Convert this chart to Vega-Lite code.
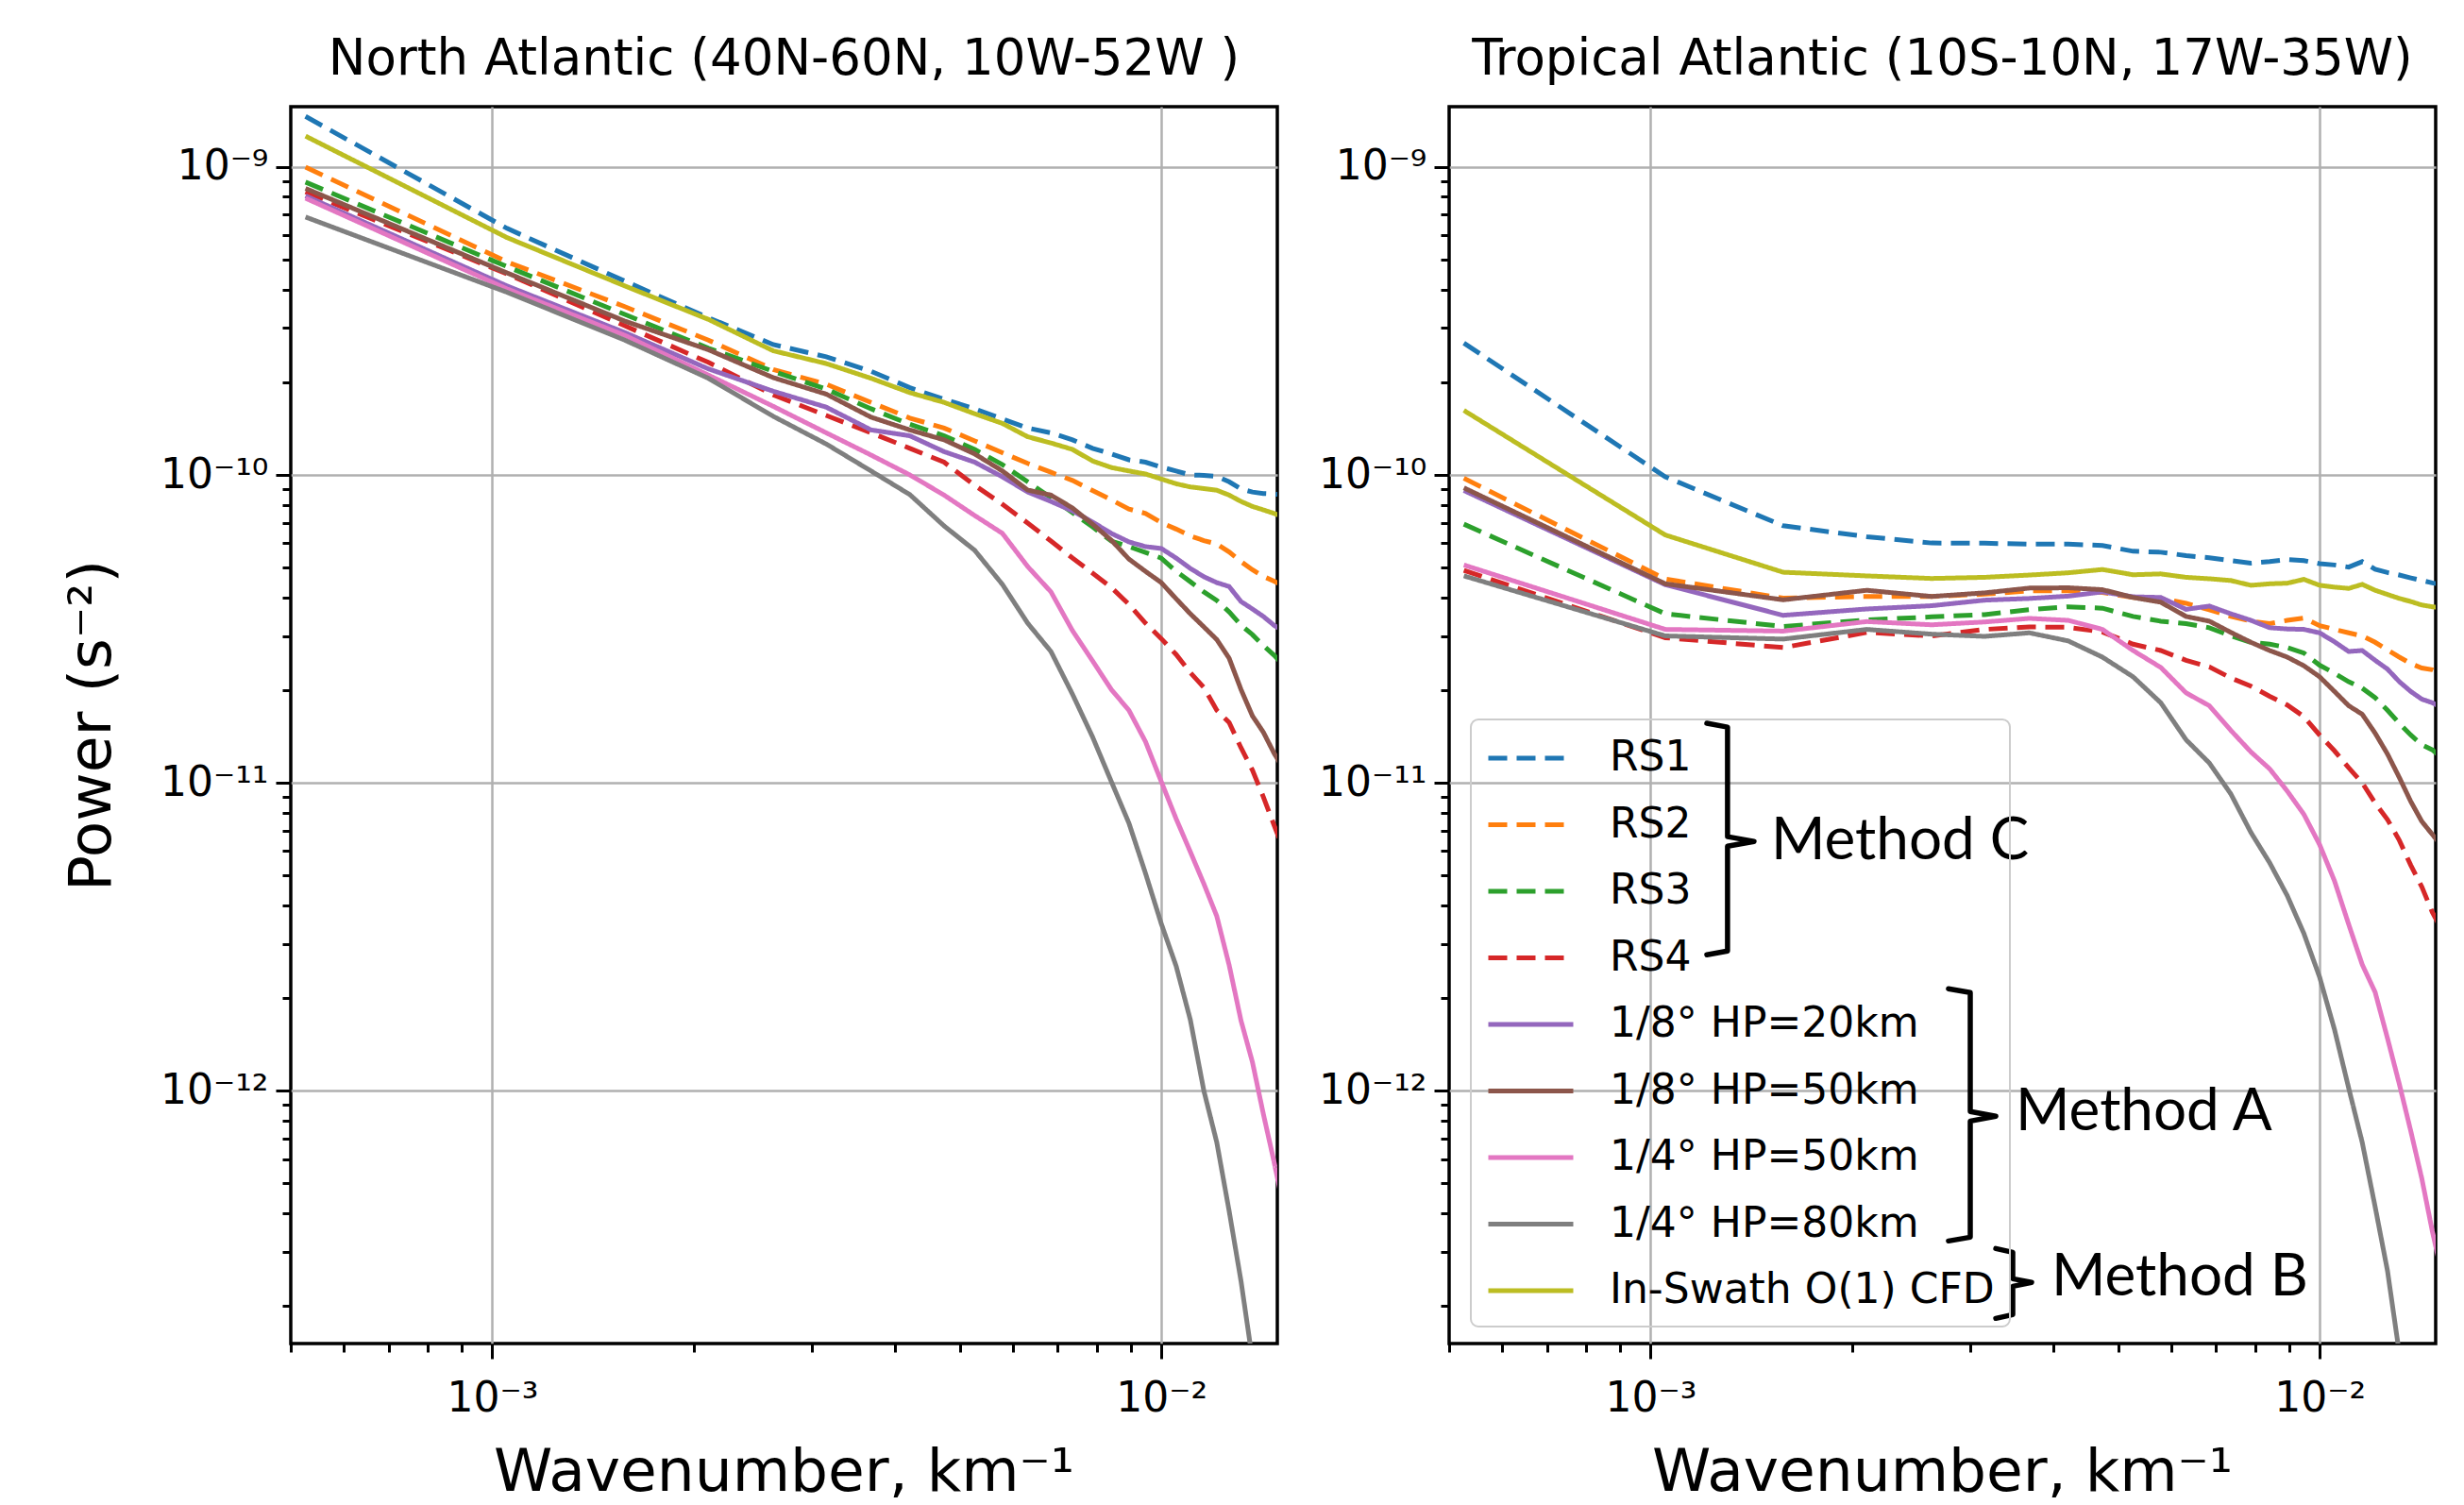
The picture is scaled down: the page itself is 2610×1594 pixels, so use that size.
{
  "$schema": "https://vega.github.io/schema/vega-lite/v6.json",
  "padding": {"left": 64, "top": 35, "right": 28, "bottom": 0},
  "bounds": "flush",
  "spacing": 182,
  "datasets": {
    "na": [
      {"s":"RS1","k":0.000526,"p":1.46e-9},{"s":"RS1","k":0.001052,"p":6.32e-10},{"s":"RS1","k":0.001578,"p":4.26e-10},{"s":"RS1","k":0.002104,"p":3.24e-10},{"s":"RS1","k":0.00263,"p":2.65e-10},{"s":"RS1","k":0.003156,"p":2.42e-10},{"s":"RS1","k":0.003682,"p":2.17e-10},{"s":"RS1","k":0.004208,"p":1.92e-10},{"s":"RS1","k":0.004734,"p":1.76e-10},{"s":"RS1","k":0.00526,"p":1.64e-10},{"s":"RS1","k":0.005786,"p":1.52e-10},{"s":"RS1","k":0.006312,"p":1.42e-10},{"s":"RS1","k":0.006838,"p":1.37e-10},{"s":"RS1","k":0.007364,"p":1.30e-10},{"s":"RS1","k":0.00789,"p":1.22e-10},{"s":"RS1","k":0.008416,"p":1.17e-10},{"s":"RS1","k":0.008942,"p":1.12e-10},{"s":"RS1","k":0.009468,"p":1.10e-10},{"s":"RS1","k":0.009994,"p":1.06e-10},{"s":"RS1","k":0.01052,"p":1.03e-10},{"s":"RS1","k":0.011046,"p":1.0e-10},{"s":"RS1","k":0.011572,"p":9.97e-11},{"s":"RS1","k":0.012098,"p":9.9e-11},{"s":"RS1","k":0.012624,"p":9.5e-11},{"s":"RS1","k":0.01315,"p":9.0e-11},{"s":"RS1","k":0.013676,"p":8.8e-11},{"s":"RS1","k":0.014202,"p":8.7e-11},{"s":"RS1","k":0.014728,"p":8.67e-11},{"s":"RS1","k":0.015254,"p":8.6e-11},
      {"s":"RS2","k":0.000526,"p":1.0e-9},{"s":"RS2","k":0.001052,"p":4.92e-10},{"s":"RS2","k":0.001578,"p":3.52e-10},{"s":"RS2","k":0.002104,"p":2.74e-10},{"s":"RS2","k":0.00263,"p":2.2e-10},{"s":"RS2","k":0.003156,"p":1.97e-10},{"s":"RS2","k":0.003682,"p":1.72e-10},{"s":"RS2","k":0.004208,"p":1.53e-10},{"s":"RS2","k":0.004734,"p":1.42e-10},{"s":"RS2","k":0.00526,"p":1.29e-10},{"s":"RS2","k":0.005786,"p":1.18e-10},{"s":"RS2","k":0.006312,"p":1.09e-10},{"s":"RS2","k":0.006838,"p":1.02e-10},{"s":"RS2","k":0.007364,"p":9.6e-11},{"s":"RS2","k":0.00789,"p":8.9e-11},{"s":"RS2","k":0.008416,"p":8.3e-11},{"s":"RS2","k":0.008942,"p":7.75e-11},{"s":"RS2","k":0.009468,"p":7.5e-11},{"s":"RS2","k":0.009994,"p":7.0e-11},{"s":"RS2","k":0.01052,"p":6.67e-11},{"s":"RS2","k":0.011046,"p":6.34e-11},{"s":"RS2","k":0.011572,"p":6.12e-11},{"s":"RS2","k":0.012098,"p":5.97e-11},{"s":"RS2","k":0.012624,"p":5.62e-11},{"s":"RS2","k":0.01315,"p":5.23e-11},{"s":"RS2","k":0.013676,"p":4.92e-11},{"s":"RS2","k":0.014202,"p":4.68e-11},{"s":"RS2","k":0.014728,"p":4.52e-11},{"s":"RS2","k":0.015254,"p":4.35e-11},
      {"s":"RS3","k":0.000526,"p":8.93e-10},{"s":"RS3","k":0.001052,"p":4.75e-10},{"s":"RS3","k":0.001578,"p":3.32e-10},{"s":"RS3","k":0.002104,"p":2.58e-10},{"s":"RS3","k":0.00263,"p":2.17e-10},{"s":"RS3","k":0.003156,"p":1.90e-10},{"s":"RS3","k":0.003682,"p":1.64e-10},{"s":"RS3","k":0.004208,"p":1.46e-10},{"s":"RS3","k":0.004734,"p":1.34e-10},{"s":"RS3","k":0.00526,"p":1.21e-10},{"s":"RS3","k":0.005786,"p":1.08e-10},{"s":"RS3","k":0.006312,"p":9.5e-11},{"s":"RS3","k":0.006838,"p":8.44e-11},{"s":"RS3","k":0.007364,"p":7.54e-11},{"s":"RS3","k":0.00789,"p":6.78e-11},{"s":"RS3","k":0.008416,"p":6.1e-11},{"s":"RS3","k":0.008942,"p":5.85e-11},{"s":"RS3","k":0.009468,"p":5.6e-11},{"s":"RS3","k":0.009994,"p":5.37e-11},{"s":"RS3","k":0.01052,"p":4.86e-11},{"s":"RS3","k":0.011046,"p":4.5e-11},{"s":"RS3","k":0.011572,"p":4.17e-11},{"s":"RS3","k":0.012098,"p":3.91e-11},{"s":"RS3","k":0.012624,"p":3.59e-11},{"s":"RS3","k":0.01315,"p":3.25e-11},{"s":"RS3","k":0.013676,"p":3.03e-11},{"s":"RS3","k":0.014202,"p":2.79e-11},{"s":"RS3","k":0.014728,"p":2.6e-11},{"s":"RS3","k":0.015254,"p":2.4e-11},
      {"s":"RS4","k":0.000526,"p":8.3e-10},{"s":"RS4","k":0.001052,"p":4.5e-10},{"s":"RS4","k":0.001578,"p":3.05e-10},{"s":"RS4","k":0.002104,"p":2.32e-10},{"s":"RS4","k":0.00263,"p":1.82e-10},{"s":"RS4","k":0.003156,"p":1.56e-10},{"s":"RS4","k":0.003682,"p":1.37e-10},{"s":"RS4","k":0.004208,"p":1.22e-10},{"s":"RS4","k":0.004734,"p":1.10e-10},{"s":"RS4","k":0.00526,"p":9.25e-11},{"s":"RS4","k":0.005786,"p":8.03e-11},{"s":"RS4","k":0.006312,"p":6.98e-11},{"s":"RS4","k":0.006838,"p":6.1e-11},{"s":"RS4","k":0.007364,"p":5.37e-11},{"s":"RS4","k":0.00789,"p":4.8e-11},{"s":"RS4","k":0.008416,"p":4.31e-11},{"s":"RS4","k":0.008942,"p":3.8e-11},{"s":"RS4","k":0.009468,"p":3.3e-11},{"s":"RS4","k":0.009994,"p":2.94e-11},{"s":"RS4","k":0.01052,"p":2.61e-11},{"s":"RS4","k":0.011046,"p":2.28e-11},{"s":"RS4","k":0.011572,"p":2.04e-11},{"s":"RS4","k":0.012098,"p":1.72e-11},{"s":"RS4","k":0.012624,"p":1.57e-11},{"s":"RS4","k":0.01315,"p":1.3e-11},{"s":"RS4","k":0.013676,"p":1.1e-11},{"s":"RS4","k":0.014202,"p":9.0e-12},{"s":"RS4","k":0.014728,"p":7.3e-12},{"s":"RS4","k":0.015254,"p":6.0e-12},
      {"s":"1/8° HP=20km","k":0.000526,"p":8.06e-10},{"s":"1/8° HP=20km","k":0.001052,"p":4.11e-10},{"s":"1/8° HP=20km","k":0.001578,"p":2.90e-10},{"s":"1/8° HP=20km","k":0.002104,"p":2.21e-10},{"s":"1/8° HP=20km","k":0.00263,"p":1.87e-10},{"s":"1/8° HP=20km","k":0.003156,"p":1.66e-10},{"s":"1/8° HP=20km","k":0.003682,"p":1.40e-10},{"s":"1/8° HP=20km","k":0.004208,"p":1.34e-10},{"s":"1/8° HP=20km","k":0.004734,"p":1.19e-10},{"s":"1/8° HP=20km","k":0.00526,"p":1.10e-10},{"s":"1/8° HP=20km","k":0.005786,"p":9.86e-11},{"s":"1/8° HP=20km","k":0.006312,"p":8.8e-11},{"s":"1/8° HP=20km","k":0.006838,"p":8.2e-11},{"s":"1/8° HP=20km","k":0.007364,"p":7.64e-11},{"s":"1/8° HP=20km","k":0.00789,"p":7.03e-11},{"s":"1/8° HP=20km","k":0.008416,"p":6.46e-11},{"s":"1/8° HP=20km","k":0.008942,"p":6.06e-11},{"s":"1/8° HP=20km","k":0.009468,"p":5.85e-11},{"s":"1/8° HP=20km","k":0.009994,"p":5.77e-11},{"s":"1/8° HP=20km","k":0.01052,"p":5.37e-11},{"s":"1/8° HP=20km","k":0.011046,"p":4.97e-11},{"s":"1/8° HP=20km","k":0.011572,"p":4.67e-11},{"s":"1/8° HP=20km","k":0.012098,"p":4.47e-11},{"s":"1/8° HP=20km","k":0.012624,"p":4.34e-11},{"s":"1/8° HP=20km","k":0.01315,"p":3.88e-11},{"s":"1/8° HP=20km","k":0.013676,"p":3.67e-11},{"s":"1/8° HP=20km","k":0.014202,"p":3.47e-11},{"s":"1/8° HP=20km","k":0.014728,"p":3.25e-11},{"s":"1/8° HP=20km","k":0.015254,"p":3.1e-11},
      {"s":"1/8° HP=50km","k":0.000526,"p":8.52e-10},{"s":"1/8° HP=50km","k":0.001052,"p":4.53e-10},{"s":"1/8° HP=50km","k":0.001578,"p":3.16e-10},{"s":"1/8° HP=50km","k":0.002104,"p":2.55e-10},{"s":"1/8° HP=50km","k":0.00263,"p":2.07e-10},{"s":"1/8° HP=50km","k":0.003156,"p":1.83e-10},{"s":"1/8° HP=50km","k":0.003682,"p":1.54e-10},{"s":"1/8° HP=50km","k":0.004208,"p":1.40e-10},{"s":"1/8° HP=50km","k":0.004734,"p":1.30e-10},{"s":"1/8° HP=50km","k":0.00526,"p":1.17e-10},{"s":"1/8° HP=50km","k":0.005786,"p":1.03e-10},{"s":"1/8° HP=50km","k":0.006312,"p":8.93e-11},{"s":"1/8° HP=50km","k":0.006838,"p":8.6e-11},{"s":"1/8° HP=50km","k":0.007364,"p":7.81e-11},{"s":"1/8° HP=50km","k":0.00789,"p":6.92e-11},{"s":"1/8° HP=50km","k":0.008416,"p":6.14e-11},{"s":"1/8° HP=50km","k":0.008942,"p":5.33e-11},{"s":"1/8° HP=50km","k":0.009468,"p":4.86e-11},{"s":"1/8° HP=50km","k":0.009994,"p":4.47e-11},{"s":"1/8° HP=50km","k":0.01052,"p":3.96e-11},{"s":"1/8° HP=50km","k":0.011046,"p":3.54e-11},{"s":"1/8° HP=50km","k":0.011572,"p":3.21e-11},{"s":"1/8° HP=50km","k":0.012098,"p":2.92e-11},{"s":"1/8° HP=50km","k":0.012624,"p":2.54e-11},{"s":"1/8° HP=50km","k":0.01315,"p":2.01e-11},{"s":"1/8° HP=50km","k":0.013676,"p":1.65e-11},{"s":"1/8° HP=50km","k":0.014202,"p":1.46e-11},{"s":"1/8° HP=50km","k":0.014728,"p":1.25e-11},{"s":"1/8° HP=50km","k":0.015254,"p":1.1e-11},
      {"s":"1/4° HP=50km","k":0.000526,"p":7.92e-10},{"s":"1/4° HP=50km","k":0.001052,"p":4.02e-10},{"s":"1/4° HP=50km","k":0.001578,"p":2.84e-10},{"s":"1/4° HP=50km","k":0.002104,"p":2.11e-10},{"s":"1/4° HP=50km","k":0.00263,"p":1.67e-10},{"s":"1/4° HP=50km","k":0.003156,"p":1.37e-10},{"s":"1/4° HP=50km","k":0.003682,"p":1.16e-10},{"s":"1/4° HP=50km","k":0.004208,"p":1.0e-10},{"s":"1/4° HP=50km","k":0.004734,"p":8.6e-11},{"s":"1/4° HP=50km","k":0.00526,"p":7.38e-11},{"s":"1/4° HP=50km","k":0.005786,"p":6.46e-11},{"s":"1/4° HP=50km","k":0.006312,"p":5.04e-11},{"s":"1/4° HP=50km","k":0.006838,"p":4.17e-11},{"s":"1/4° HP=50km","k":0.007364,"p":3.12e-11},{"s":"1/4° HP=50km","k":0.00789,"p":2.49e-11},{"s":"1/4° HP=50km","k":0.008416,"p":2.01e-11},{"s":"1/4° HP=50km","k":0.008942,"p":1.72e-11},{"s":"1/4° HP=50km","k":0.009468,"p":1.36e-11},{"s":"1/4° HP=50km","k":0.009994,"p":1.01e-11},{"s":"1/4° HP=50km","k":0.01052,"p":7.64e-12},{"s":"1/4° HP=50km","k":0.011046,"p":5.97e-12},{"s":"1/4° HP=50km","k":0.011572,"p":4.70e-12},{"s":"1/4° HP=50km","k":0.012098,"p":3.69e-12},{"s":"1/4° HP=50km","k":0.012624,"p":2.56e-12},{"s":"1/4° HP=50km","k":0.01315,"p":1.69e-12},{"s":"1/4° HP=50km","k":0.013676,"p":1.24e-12},{"s":"1/4° HP=50km","k":0.014202,"p":8.4e-13},{"s":"1/4° HP=50km","k":0.014728,"p":5.9e-13},{"s":"1/4° HP=50km","k":0.015254,"p":4.1e-13},
      {"s":"1/4° HP=80km","k":0.000526,"p":6.88e-10},{"s":"1/4° HP=80km","k":0.001052,"p":3.92e-10},{"s":"1/4° HP=80km","k":0.001578,"p":2.74e-10},{"s":"1/4° HP=80km","k":0.002104,"p":2.06e-10},{"s":"1/4° HP=80km","k":0.00263,"p":1.55e-10},{"s":"1/4° HP=80km","k":0.003156,"p":1.26e-10},{"s":"1/4° HP=80km","k":0.003682,"p":1.03e-10},{"s":"1/4° HP=80km","k":0.004208,"p":8.63e-11},{"s":"1/4° HP=80km","k":0.004734,"p":6.83e-11},{"s":"1/4° HP=80km","k":0.00526,"p":5.69e-11},{"s":"1/4° HP=80km","k":0.005786,"p":4.41e-11},{"s":"1/4° HP=80km","k":0.006312,"p":3.30e-11},{"s":"1/4° HP=80km","k":0.006838,"p":2.67e-11},{"s":"1/4° HP=80km","k":0.007364,"p":1.94e-11},{"s":"1/4° HP=80km","k":0.00789,"p":1.41e-11},{"s":"1/4° HP=80km","k":0.008416,"p":1.01e-11},{"s":"1/4° HP=80km","k":0.008942,"p":7.4e-12},{"s":"1/4° HP=80km","k":0.009468,"p":5.08e-12},{"s":"1/4° HP=80km","k":0.009994,"p":3.49e-12},{"s":"1/4° HP=80km","k":0.01052,"p":2.54e-12},{"s":"1/4° HP=80km","k":0.011046,"p":1.70e-12},{"s":"1/4° HP=80km","k":0.011572,"p":1.0e-12},{"s":"1/4° HP=80km","k":0.012098,"p":6.8e-13},{"s":"1/4° HP=80km","k":0.012624,"p":4.07e-13},{"s":"1/4° HP=80km","k":0.01315,"p":2.41e-13},{"s":"1/4° HP=80km","k":0.013676,"p":1.34e-13},{"s":"1/4° HP=80km","k":0.014202,"p":8e-14},{"s":"1/4° HP=80km","k":0.014728,"p":5e-14},{"s":"1/4° HP=80km","k":0.015254,"p":3e-14},
      {"s":"In-Swath O(1) CFD","k":0.000526,"p":1.26e-9},{"s":"In-Swath O(1) CFD","k":0.001052,"p":5.9e-10},{"s":"In-Swath O(1) CFD","k":0.001578,"p":4.11e-10},{"s":"In-Swath O(1) CFD","k":0.002104,"p":3.2e-10},{"s":"In-Swath O(1) CFD","k":0.00263,"p":2.53e-10},{"s":"In-Swath O(1) CFD","k":0.003156,"p":2.30e-10},{"s":"In-Swath O(1) CFD","k":0.003682,"p":2.06e-10},{"s":"In-Swath O(1) CFD","k":0.004208,"p":1.85e-10},{"s":"In-Swath O(1) CFD","k":0.004734,"p":1.72e-10},{"s":"In-Swath O(1) CFD","k":0.00526,"p":1.58e-10},{"s":"In-Swath O(1) CFD","k":0.005786,"p":1.47e-10},{"s":"In-Swath O(1) CFD","k":0.006312,"p":1.33e-10},{"s":"In-Swath O(1) CFD","k":0.006838,"p":1.27e-10},{"s":"In-Swath O(1) CFD","k":0.007364,"p":1.21e-10},{"s":"In-Swath O(1) CFD","k":0.00789,"p":1.11e-10},{"s":"In-Swath O(1) CFD","k":0.008416,"p":1.057e-10},{"s":"In-Swath O(1) CFD","k":0.008942,"p":1.03e-10},{"s":"In-Swath O(1) CFD","k":0.009468,"p":1.007e-10},{"s":"In-Swath O(1) CFD","k":0.009994,"p":9.7e-11},{"s":"In-Swath O(1) CFD","k":0.01052,"p":9.36e-11},{"s":"In-Swath O(1) CFD","k":0.011046,"p":9.14e-11},{"s":"In-Swath O(1) CFD","k":0.011572,"p":9.03e-11},{"s":"In-Swath O(1) CFD","k":0.012098,"p":8.92e-11},{"s":"In-Swath O(1) CFD","k":0.012624,"p":8.6e-11},{"s":"In-Swath O(1) CFD","k":0.01315,"p":8.2e-11},{"s":"In-Swath O(1) CFD","k":0.013676,"p":7.9e-11},{"s":"In-Swath O(1) CFD","k":0.014202,"p":7.7e-11},{"s":"In-Swath O(1) CFD","k":0.014728,"p":7.5e-11},{"s":"In-Swath O(1) CFD","k":0.015254,"p":7.3e-11}
    ],
    "ta": [
      {"s":"RS1","k":0.000526,"p":2.68e-10},{"s":"RS1","k":0.001052,"p":9.86e-11},{"s":"RS1","k":0.001578,"p":6.84e-11},{"s":"RS1","k":0.002104,"p":6.3e-11},{"s":"RS1","k":0.00263,"p":6.01e-11},{"s":"RS1","k":0.003156,"p":6.0e-11},{"s":"RS1","k":0.003682,"p":5.96e-11},{"s":"RS1","k":0.004208,"p":5.96e-11},{"s":"RS1","k":0.004734,"p":5.9e-11},{"s":"RS1","k":0.00526,"p":5.65e-11},{"s":"RS1","k":0.005786,"p":5.61e-11},{"s":"RS1","k":0.006312,"p":5.47e-11},{"s":"RS1","k":0.006838,"p":5.38e-11},{"s":"RS1","k":0.007364,"p":5.27e-11},{"s":"RS1","k":0.00789,"p":5.17e-11},{"s":"RS1","k":0.008416,"p":5.23e-11},{"s":"RS1","k":0.008942,"p":5.31e-11},{"s":"RS1","k":0.009468,"p":5.27e-11},{"s":"RS1","k":0.009994,"p":5.15e-11},{"s":"RS1","k":0.01052,"p":5.1e-11},{"s":"RS1","k":0.011046,"p":5.02e-11},{"s":"RS1","k":0.011572,"p":5.23e-11},{"s":"RS1","k":0.012098,"p":4.94e-11},{"s":"RS1","k":0.012624,"p":4.82e-11},{"s":"RS1","k":0.01315,"p":4.73e-11},{"s":"RS1","k":0.013676,"p":4.63e-11},{"s":"RS1","k":0.014202,"p":4.54e-11},{"s":"RS1","k":0.014728,"p":4.46e-11},{"s":"RS1","k":0.015254,"p":4.4e-11},
      {"s":"RS2","k":0.000526,"p":9.75e-11},{"s":"RS2","k":0.001052,"p":4.59e-11},{"s":"RS2","k":0.001578,"p":3.98e-11},{"s":"RS2","k":0.002104,"p":4.03e-11},{"s":"RS2","k":0.00263,"p":4.03e-11},{"s":"RS2","k":0.003156,"p":4.1e-11},{"s":"RS2","k":0.003682,"p":4.2e-11},{"s":"RS2","k":0.004208,"p":4.2e-11},{"s":"RS2","k":0.004734,"p":4.15e-11},{"s":"RS2","k":0.00526,"p":4.0e-11},{"s":"RS2","k":0.005786,"p":3.97e-11},{"s":"RS2","k":0.006312,"p":3.83e-11},{"s":"RS2","k":0.006838,"p":3.65e-11},{"s":"RS2","k":0.007364,"p":3.47e-11},{"s":"RS2","k":0.00789,"p":3.35e-11},{"s":"RS2","k":0.008416,"p":3.29e-11},{"s":"RS2","k":0.008942,"p":3.37e-11},{"s":"RS2","k":0.009468,"p":3.43e-11},{"s":"RS2","k":0.009994,"p":3.24e-11},{"s":"RS2","k":0.01052,"p":3.15e-11},{"s":"RS2","k":0.011046,"p":3.07e-11},{"s":"RS2","k":0.011572,"p":3.0e-11},{"s":"RS2","k":0.012098,"p":2.86e-11},{"s":"RS2","k":0.012624,"p":2.7e-11},{"s":"RS2","k":0.01315,"p":2.56e-11},{"s":"RS2","k":0.013676,"p":2.44e-11},{"s":"RS2","k":0.014202,"p":2.36e-11},{"s":"RS2","k":0.014728,"p":2.33e-11},{"s":"RS2","k":0.015254,"p":2.25e-11},
      {"s":"RS3","k":0.000526,"p":6.92e-11},{"s":"RS3","k":0.001052,"p":3.54e-11},{"s":"RS3","k":0.001578,"p":3.22e-11},{"s":"RS3","k":0.002104,"p":3.38e-11},{"s":"RS3","k":0.00263,"p":3.46e-11},{"s":"RS3","k":0.003156,"p":3.52e-11},{"s":"RS3","k":0.003682,"p":3.65e-11},{"s":"RS3","k":0.004208,"p":3.73e-11},{"s":"RS3","k":0.004734,"p":3.69e-11},{"s":"RS3","k":0.00526,"p":3.47e-11},{"s":"RS3","k":0.005786,"p":3.35e-11},{"s":"RS3","k":0.006312,"p":3.29e-11},{"s":"RS3","k":0.006838,"p":3.19e-11},{"s":"RS3","k":0.007364,"p":3.0e-11},{"s":"RS3","k":0.00789,"p":2.86e-11},{"s":"RS3","k":0.008416,"p":2.82e-11},{"s":"RS3","k":0.008942,"p":2.75e-11},{"s":"RS3","k":0.009468,"p":2.64e-11},{"s":"RS3","k":0.009994,"p":2.41e-11},{"s":"RS3","k":0.01052,"p":2.27e-11},{"s":"RS3","k":0.011046,"p":2.13e-11},{"s":"RS3","k":0.011572,"p":2.03e-11},{"s":"RS3","k":0.012098,"p":1.89e-11},{"s":"RS3","k":0.012624,"p":1.72e-11},{"s":"RS3","k":0.01315,"p":1.56e-11},{"s":"RS3","k":0.013676,"p":1.43e-11},{"s":"RS3","k":0.014202,"p":1.33e-11},{"s":"RS3","k":0.014728,"p":1.28e-11},{"s":"RS3","k":0.015254,"p":1.2e-11},
      {"s":"RS4","k":0.000526,"p":4.9e-11},{"s":"RS4","k":0.001052,"p":2.96e-11},{"s":"RS4","k":0.001578,"p":2.75e-11},{"s":"RS4","k":0.002104,"p":3.08e-11},{"s":"RS4","k":0.00263,"p":3.0e-11},{"s":"RS4","k":0.003156,"p":3.15e-11},{"s":"RS4","k":0.003682,"p":3.21e-11},{"s":"RS4","k":0.004208,"p":3.2e-11},{"s":"RS4","k":0.004734,"p":3.09e-11},{"s":"RS4","k":0.00526,"p":2.82e-11},{"s":"RS4","k":0.005786,"p":2.69e-11},{"s":"RS4","k":0.006312,"p":2.5e-11},{"s":"RS4","k":0.006838,"p":2.38e-11},{"s":"RS4","k":0.007364,"p":2.19e-11},{"s":"RS4","k":0.00789,"p":2.06e-11},{"s":"RS4","k":0.008416,"p":1.91e-11},{"s":"RS4","k":0.008942,"p":1.79e-11},{"s":"RS4","k":0.009468,"p":1.64e-11},{"s":"RS4","k":0.009994,"p":1.43e-11},{"s":"RS4","k":0.01052,"p":1.27e-11},{"s":"RS4","k":0.011046,"p":1.12e-11},{"s":"RS4","k":0.011572,"p":1.0e-11},{"s":"RS4","k":0.012098,"p":8.6e-12},{"s":"RS4","k":0.012624,"p":7.6e-12},{"s":"RS4","k":0.01315,"p":6.5e-12},{"s":"RS4","k":0.013676,"p":5.4e-12},{"s":"RS4","k":0.014202,"p":4.6e-12},{"s":"RS4","k":0.014728,"p":3.8e-12},{"s":"RS4","k":0.015254,"p":3.3e-12},
      {"s":"1/8° HP=20km","k":0.000526,"p":8.9e-11},{"s":"1/8° HP=20km","k":0.001052,"p":4.4e-11},{"s":"1/8° HP=20km","k":0.001578,"p":3.5e-11},{"s":"1/8° HP=20km","k":0.002104,"p":3.67e-11},{"s":"1/8° HP=20km","k":0.00263,"p":3.76e-11},{"s":"1/8° HP=20km","k":0.003156,"p":3.92e-11},{"s":"1/8° HP=20km","k":0.003682,"p":3.97e-11},{"s":"1/8° HP=20km","k":0.004208,"p":4.04e-11},{"s":"1/8° HP=20km","k":0.004734,"p":4.17e-11},{"s":"1/8° HP=20km","k":0.00526,"p":4.02e-11},{"s":"1/8° HP=20km","k":0.005786,"p":4.0e-11},{"s":"1/8° HP=20km","k":0.006312,"p":3.66e-11},{"s":"1/8° HP=20km","k":0.006838,"p":3.75e-11},{"s":"1/8° HP=20km","k":0.007364,"p":3.54e-11},{"s":"1/8° HP=20km","k":0.00789,"p":3.37e-11},{"s":"1/8° HP=20km","k":0.008416,"p":3.19e-11},{"s":"1/8° HP=20km","k":0.008942,"p":3.16e-11},{"s":"1/8° HP=20km","k":0.009468,"p":3.15e-11},{"s":"1/8° HP=20km","k":0.009994,"p":3.07e-11},{"s":"1/8° HP=20km","k":0.01052,"p":2.87e-11},{"s":"1/8° HP=20km","k":0.011046,"p":2.67e-11},{"s":"1/8° HP=20km","k":0.011572,"p":2.69e-11},{"s":"1/8° HP=20km","k":0.012098,"p":2.5e-11},{"s":"1/8° HP=20km","k":0.012624,"p":2.34e-11},{"s":"1/8° HP=20km","k":0.01315,"p":2.13e-11},{"s":"1/8° HP=20km","k":0.013676,"p":1.98e-11},{"s":"1/8° HP=20km","k":0.014202,"p":1.87e-11},{"s":"1/8° HP=20km","k":0.014728,"p":1.82e-11},{"s":"1/8° HP=20km","k":0.015254,"p":1.75e-11},
      {"s":"1/8° HP=50km","k":0.000526,"p":9.08e-11},{"s":"1/8° HP=50km","k":0.001052,"p":4.43e-11},{"s":"1/8° HP=50km","k":0.001578,"p":3.93e-11},{"s":"1/8° HP=50km","k":0.002104,"p":4.22e-11},{"s":"1/8° HP=50km","k":0.00263,"p":4.03e-11},{"s":"1/8° HP=50km","k":0.003156,"p":4.14e-11},{"s":"1/8° HP=50km","k":0.003682,"p":4.29e-11},{"s":"1/8° HP=50km","k":0.004208,"p":4.3e-11},{"s":"1/8° HP=50km","k":0.004734,"p":4.24e-11},{"s":"1/8° HP=50km","k":0.00526,"p":4.0e-11},{"s":"1/8° HP=50km","k":0.005786,"p":3.86e-11},{"s":"1/8° HP=50km","k":0.006312,"p":3.47e-11},{"s":"1/8° HP=50km","k":0.006838,"p":3.35e-11},{"s":"1/8° HP=50km","k":0.007364,"p":3.08e-11},{"s":"1/8° HP=50km","k":0.00789,"p":2.86e-11},{"s":"1/8° HP=50km","k":0.008416,"p":2.69e-11},{"s":"1/8° HP=50km","k":0.008942,"p":2.56e-11},{"s":"1/8° HP=50km","k":0.009468,"p":2.4e-11},{"s":"1/8° HP=50km","k":0.009994,"p":2.21e-11},{"s":"1/8° HP=50km","k":0.01052,"p":1.98e-11},{"s":"1/8° HP=50km","k":0.011046,"p":1.78e-11},{"s":"1/8° HP=50km","k":0.011572,"p":1.67e-11},{"s":"1/8° HP=50km","k":0.012098,"p":1.45e-11},{"s":"1/8° HP=50km","k":0.012624,"p":1.24e-11},{"s":"1/8° HP=50km","k":0.01315,"p":1.04e-11},{"s":"1/8° HP=50km","k":0.013676,"p":8.7e-12},{"s":"1/8° HP=50km","k":0.014202,"p":7.5e-12},{"s":"1/8° HP=50km","k":0.014728,"p":6.8e-12},{"s":"1/8° HP=50km","k":0.015254,"p":6.2e-12},
      {"s":"1/4° HP=50km","k":0.000526,"p":5.1e-11},{"s":"1/4° HP=50km","k":0.001052,"p":3.15e-11},{"s":"1/4° HP=50km","k":0.001578,"p":3.11e-11},{"s":"1/4° HP=50km","k":0.002104,"p":3.34e-11},{"s":"1/4° HP=50km","k":0.00263,"p":3.26e-11},{"s":"1/4° HP=50km","k":0.003156,"p":3.33e-11},{"s":"1/4° HP=50km","k":0.003682,"p":3.42e-11},{"s":"1/4° HP=50km","k":0.004208,"p":3.37e-11},{"s":"1/4° HP=50km","k":0.004734,"p":3.15e-11},{"s":"1/4° HP=50km","k":0.00526,"p":2.69e-11},{"s":"1/4° HP=50km","k":0.005786,"p":2.37e-11},{"s":"1/4° HP=50km","k":0.006312,"p":1.96e-11},{"s":"1/4° HP=50km","k":0.006838,"p":1.78e-11},{"s":"1/4° HP=50km","k":0.007364,"p":1.48e-11},{"s":"1/4° HP=50km","k":0.00789,"p":1.26e-11},{"s":"1/4° HP=50km","k":0.008416,"p":1.11e-11},{"s":"1/4° HP=50km","k":0.008942,"p":9.4e-12},{"s":"1/4° HP=50km","k":0.009468,"p":7.9e-12},{"s":"1/4° HP=50km","k":0.009994,"p":6.3e-12},{"s":"1/4° HP=50km","k":0.01052,"p":4.8e-12},{"s":"1/4° HP=50km","k":0.011046,"p":3.47e-12},{"s":"1/4° HP=50km","k":0.011572,"p":2.57e-12},{"s":"1/4° HP=50km","k":0.012098,"p":2.09e-12},{"s":"1/4° HP=50km","k":0.012624,"p":1.48e-12},{"s":"1/4° HP=50km","k":0.01315,"p":1.05e-12},{"s":"1/4° HP=50km","k":0.013676,"p":7.4e-13},{"s":"1/4° HP=50km","k":0.014202,"p":5.2e-13},{"s":"1/4° HP=50km","k":0.014728,"p":3.5e-13},{"s":"1/4° HP=50km","k":0.015254,"p":2.5e-13},
      {"s":"1/4° HP=80km","k":0.000526,"p":4.7e-11},{"s":"1/4° HP=80km","k":0.001052,"p":3.0e-11},{"s":"1/4° HP=80km","k":0.001578,"p":2.93e-11},{"s":"1/4° HP=80km","k":0.002104,"p":3.15e-11},{"s":"1/4° HP=80km","k":0.00263,"p":3.04e-11},{"s":"1/4° HP=80km","k":0.003156,"p":2.99e-11},{"s":"1/4° HP=80km","k":0.003682,"p":3.07e-11},{"s":"1/4° HP=80km","k":0.004208,"p":2.89e-11},{"s":"1/4° HP=80km","k":0.004734,"p":2.56e-11},{"s":"1/4° HP=80km","k":0.00526,"p":2.21e-11},{"s":"1/4° HP=80km","k":0.005786,"p":1.82e-11},{"s":"1/4° HP=80km","k":0.006312,"p":1.38e-11},{"s":"1/4° HP=80km","k":0.006838,"p":1.16e-11},{"s":"1/4° HP=80km","k":0.007364,"p":9.2e-12},{"s":"1/4° HP=80km","k":0.00789,"p":6.9e-12},{"s":"1/4° HP=80km","k":0.008416,"p":5.5e-12},{"s":"1/4° HP=80km","k":0.008942,"p":4.3e-12},{"s":"1/4° HP=80km","k":0.009468,"p":3.24e-12},{"s":"1/4° HP=80km","k":0.009994,"p":2.34e-12},{"s":"1/4° HP=80km","k":0.01052,"p":1.58e-12},{"s":"1/4° HP=80km","k":0.011046,"p":1.02e-12},{"s":"1/4° HP=80km","k":0.011572,"p":6.8e-13},{"s":"1/4° HP=80km","k":0.012098,"p":4.2e-13},{"s":"1/4° HP=80km","k":0.012624,"p":2.6e-13},{"s":"1/4° HP=80km","k":0.01315,"p":1.4e-13},{"s":"1/4° HP=80km","k":0.013676,"p":8e-14},{"s":"1/4° HP=80km","k":0.014202,"p":5e-14},{"s":"1/4° HP=80km","k":0.014728,"p":3e-14},{"s":"1/4° HP=80km","k":0.015254,"p":2e-14},
      {"s":"In-Swath O(1) CFD","k":0.000526,"p":1.62e-10},{"s":"In-Swath O(1) CFD","k":0.001052,"p":6.38e-11},{"s":"In-Swath O(1) CFD","k":0.001578,"p":4.83e-11},{"s":"In-Swath O(1) CFD","k":0.002104,"p":4.7e-11},{"s":"In-Swath O(1) CFD","k":0.00263,"p":4.61e-11},{"s":"In-Swath O(1) CFD","k":0.003156,"p":4.65e-11},{"s":"In-Swath O(1) CFD","k":0.003682,"p":4.73e-11},{"s":"In-Swath O(1) CFD","k":0.004208,"p":4.81e-11},{"s":"In-Swath O(1) CFD","k":0.004734,"p":4.93e-11},{"s":"In-Swath O(1) CFD","k":0.00526,"p":4.74e-11},{"s":"In-Swath O(1) CFD","k":0.005786,"p":4.77e-11},{"s":"In-Swath O(1) CFD","k":0.006312,"p":4.65e-11},{"s":"In-Swath O(1) CFD","k":0.006838,"p":4.6e-11},{"s":"In-Swath O(1) CFD","k":0.007364,"p":4.54e-11},{"s":"In-Swath O(1) CFD","k":0.00789,"p":4.38e-11},{"s":"In-Swath O(1) CFD","k":0.008416,"p":4.43e-11},{"s":"In-Swath O(1) CFD","k":0.008942,"p":4.45e-11},{"s":"In-Swath O(1) CFD","k":0.009468,"p":4.58e-11},{"s":"In-Swath O(1) CFD","k":0.009994,"p":4.38e-11},{"s":"In-Swath O(1) CFD","k":0.01052,"p":4.32e-11},{"s":"In-Swath O(1) CFD","k":0.011046,"p":4.28e-11},{"s":"In-Swath O(1) CFD","k":0.011572,"p":4.41e-11},{"s":"In-Swath O(1) CFD","k":0.012098,"p":4.22e-11},{"s":"In-Swath O(1) CFD","k":0.012624,"p":4.09e-11},{"s":"In-Swath O(1) CFD","k":0.01315,"p":3.97e-11},{"s":"In-Swath O(1) CFD","k":0.013676,"p":3.88e-11},{"s":"In-Swath O(1) CFD","k":0.014202,"p":3.78e-11},{"s":"In-Swath O(1) CFD","k":0.014728,"p":3.73e-11},{"s":"In-Swath O(1) CFD","k":0.015254,"p":3.7e-11}
    ],
    "brace": [
      {"g":"C","i":1,"k":0.0012136,"p":1.561e-11},{"g":"C","i":2,"k":0.0013031,"p":1.517e-11},{"g":"C","i":3,"k":0.0013031,"p":6.686e-12},{"g":"C","i":4,"k":0.0014274,"p":6.453e-12},{"g":"C","i":5,"k":0.0013031,"p":6.229e-12},{"g":"C","i":6,"k":0.0013031,"p":2.844e-12},{"g":"C","i":7,"k":0.0012136,"p":2.764e-12},
      {"g":"A","i":1,"k":0.002787,"p":2.144e-12},{"g":"A","i":2,"k":0.003004,"p":2.084e-12},{"g":"A","i":3,"k":0.003004,"p":8.56e-13},{"g":"A","i":4,"k":0.00328,"p":8.26e-13},{"g":"A","i":5,"k":0.003004,"p":7.97e-13},{"g":"A","i":6,"k":0.003004,"p":3.345e-13},{"g":"A","i":7,"k":0.002787,"p":3.252e-13},
      {"g":"B","i":1,"k":0.00328,"p":3.073e-13},{"g":"B","i":2,"k":0.003477,"p":2.988e-13},{"g":"B","i":3,"k":0.003477,"p":2.452e-13},{"g":"B","i":4,"k":0.00371,"p":2.384e-13},{"g":"B","i":5,"k":0.003477,"p":2.317e-13},{"g":"B","i":6,"k":0.003477,"p":1.875e-13},{"g":"B","i":7,"k":0.00328,"p":1.823e-13}
    ],
    "note": [
      {"label":"Method C","k":0.0015136,"p":6.45e-12},
      {"label":"Method A","k":0.003511,"p":8.5e-13},
      {"label":"Method B","k":0.003972,"p":2.47e-13}
    ]
  },
  "hconcat": [
    {
      "width": 1045,
      "height": 1310,
      "title": "North Atlantic (40N-60N, 10W-52W )",
      "data": {"name": "na"},
      "mark": {"type": "line", "clip": true, "strokeWidth": 5},
      "encoding": {
        "x": {"field": "k", "type": "quantitative",
          "scale": {"type": "log", "domain": [0.0005, 0.0149]},
          "axis": {"title": "Wavenumber, km⁻¹",
            "values": [0.0005,0.0006,0.0007,0.0008,0.0009,0.001,0.002,0.003,0.004,0.005,0.006,0.007,0.008,0.009,0.01],
            "labelExpr": "datum.value == 0.001 ? '10⁻³' : datum.value == 0.01 ? '10⁻²' : ''",
            "tickSize": {"condition": {"test": "datum.value == 0.001 || datum.value == 0.01", "value": 16}, "value": 9},
            "gridOpacity": {"condition": {"test": "datum.value == 0.001 || datum.value == 0.01", "value": 1}, "value": 0},
            "labelPadding": 20,
            "titleBaseline": "alphabetic", "titleY": 155, "titleX": 522}},
        "y": {"field": "p", "type": "quantitative",
          "scale": {"type": "log", "domain": [1.51e-13, 1.57e-9]},
          "axis": {"title": "Power (s⁻²)",
            "values": [2e-13,3e-13,4e-13,5e-13,6e-13,7e-13,8e-13,9e-13,1e-12,2e-12,3e-12,4e-12,5e-12,6e-12,7e-12,8e-12,9e-12,1e-11,2e-11,3e-11,4e-11,5e-11,6e-11,7e-11,8e-11,9e-11,1e-10,2e-10,3e-10,4e-10,5e-10,6e-10,7e-10,8e-10,9e-10,1e-9],
            "labelExpr": "datum.value == 1e-9 ? '10⁻⁹' : datum.value == 1e-10 ? '10⁻¹⁰' : datum.value == 1e-11 ? '10⁻¹¹' : datum.value == 1e-12 ? '10⁻¹²' : ''",
            "tickSize": {"condition": {"test": "datum.value == 1e-9 || datum.value == 1e-10 || datum.value == 1e-11 || datum.value == 1e-12", "value": 16}, "value": 9},
            "gridOpacity": {"condition": {"test": "datum.value == 1e-9 || datum.value == 1e-10 || datum.value == 1e-11 || datum.value == 1e-12", "value": 1}, "value": 0},
            "labelPadding": 8,
            "titleBaseline": "alphabetic", "titleAngle": 270, "titleX": -192, "titleY": 655, "titleAlign": "center"}},
        "color": {"field": "s", "type": "nominal",
          "scale": {"domain": ["RS1","RS2","RS3","RS4","1/8° HP=20km","1/8° HP=50km","1/4° HP=50km","1/4° HP=80km","In-Swath O(1) CFD"],
            "range": ["#1f77b4","#ff7f0e","#2ca02c","#d62728","#9467bd","#8c564b","#e377c2","#7f7f7f","#bcbd22"]},
          "legend": {"legendX": 1250, "legendY": 649}},
        "strokeDash": {"field": "s", "type": "nominal",
          "scale": {"domain": ["RS1","RS2","RS3","RS4","1/8° HP=20km","1/8° HP=50km","1/4° HP=50km","1/4° HP=80km","In-Swath O(1) CFD"],
            "range": [[20,10],[20,10],[20,10],[20,10],[1,0],[1,0],[1,0],[1,0],[1,0]]},
          "legend": {"legendX": 1250, "legendY": 649}}
      }
    },
    {
      "width": 1045,
      "height": 1310,
      "title": "Tropical Atlantic (10S-10N, 17W-35W)",
      "layer": [
        {
          "data": {"name": "ta"},
          "mark": {"type": "line", "clip": true, "strokeWidth": 5},
          "encoding": {
            "x": {"field": "k", "type": "quantitative",
              "scale": {"type": "log", "domain": [0.0005, 0.0149]},
              "axis": {"title": "Wavenumber, km⁻¹",
                "values": [0.0005,0.0006,0.0007,0.0008,0.0009,0.001,0.002,0.003,0.004,0.005,0.006,0.007,0.008,0.009,0.01],
                "labelExpr": "datum.value == 0.001 ? '10⁻³' : datum.value == 0.01 ? '10⁻²' : ''",
                "tickSize": {"condition": {"test": "datum.value == 0.001 || datum.value == 0.01", "value": 16}, "value": 9},
                "gridOpacity": {"condition": {"test": "datum.value == 0.001 || datum.value == 0.01", "value": 1}, "value": 0},
                "labelPadding": 20,
                "titleBaseline": "alphabetic", "titleY": 155, "titleX": 522}},
            "y": {"field": "p", "type": "quantitative",
              "scale": {"type": "log", "domain": [1.51e-13, 1.57e-9]},
              "axis": {"title": null,
                "values": [2e-13,3e-13,4e-13,5e-13,6e-13,7e-13,8e-13,9e-13,1e-12,2e-12,3e-12,4e-12,5e-12,6e-12,7e-12,8e-12,9e-12,1e-11,2e-11,3e-11,4e-11,5e-11,6e-11,7e-11,8e-11,9e-11,1e-10,2e-10,3e-10,4e-10,5e-10,6e-10,7e-10,8e-10,9e-10,1e-9],
                "labelExpr": "datum.value == 1e-9 ? '10⁻⁹' : datum.value == 1e-10 ? '10⁻¹⁰' : datum.value == 1e-11 ? '10⁻¹¹' : datum.value == 1e-12 ? '10⁻¹²' : ''",
                "tickSize": {"condition": {"test": "datum.value == 1e-9 || datum.value == 1e-10 || datum.value == 1e-11 || datum.value == 1e-12", "value": 16}, "value": 9},
                "gridOpacity": {"condition": {"test": "datum.value == 1e-9 || datum.value == 1e-10 || datum.value == 1e-11 || datum.value == 1e-12", "value": 1}, "value": 0},
                "labelPadding": 8}},
            "color": {"field": "s", "type": "nominal",
              "scale": {"domain": ["RS1","RS2","RS3","RS4","1/8° HP=20km","1/8° HP=50km","1/4° HP=50km","1/4° HP=80km","In-Swath O(1) CFD"],
                "range": ["#1f77b4","#ff7f0e","#2ca02c","#d62728","#9467bd","#8c564b","#e377c2","#7f7f7f","#bcbd22"]},
              "legend": {"legendX": 1250, "legendY": 649}},
            "strokeDash": {"field": "s", "type": "nominal",
              "scale": {"domain": ["RS1","RS2","RS3","RS4","1/8° HP=20km","1/8° HP=50km","1/4° HP=50km","1/4° HP=80km","In-Swath O(1) CFD"],
                "range": [[20,10],[20,10],[20,10],[20,10],[1,0],[1,0],[1,0],[1,0],[1,0]]},
              "legend": {"legendX": 1250, "legendY": 649}}
          }
        },
        {
          "data": {"name": "brace"},
          "mark": {"type": "line", "color": "black", "strokeWidth": 5.5, "strokeJoin": "round", "strokeCap": "round"},
          "encoding": {
            "x": {"field": "k", "type": "quantitative", "scale": {"type": "log", "domain": [0.0005, 0.0149]}},
            "y": {"field": "p", "type": "quantitative", "scale": {"type": "log", "domain": [1.51e-13, 1.57e-9]}},
            "detail": {"field": "g", "type": "nominal"},
            "order": {"field": "i", "type": "quantitative"}
          }
        },
        {
          "data": {"name": "note"},
          "mark": {"type": "text", "font": "Lato", "fontSize": 62, "align": "left", "baseline": "middle", "color": "black"},
          "encoding": {
            "x": {"field": "k", "type": "quantitative", "scale": {"type": "log", "domain": [0.0005, 0.0149]}},
            "y": {"field": "p", "type": "quantitative", "scale": {"type": "log", "domain": [1.51e-13, 1.57e-9]}},
            "text": {"field": "label", "type": "nominal"}
          }
        }
      ]
    }
  ],
  "config": {
    "view": {"stroke": "black", "strokeWidth": 3.5},
    "font": "DejaVu Sans",
    "title": {"font": "DejaVu Sans", "fontSize": 53, "fontWeight": "normal", "color": "black", "baseline": "alphabetic", "offset": 23, "anchor": "middle"},
    "axis": {
      "domain": false,
      "tickColor": "black", "tickWidth": 3,
      "labelFont": "DejaVu Sans", "labelFontSize": 44, "labelColor": "black",
      "labelOverlap": false, "labelFlush": false,
      "titleFont": "DejaVu Sans", "titleFontSize": 63, "titleFontWeight": "normal", "titleColor": "black",
      "gridColor": "#b0b0b0", "gridWidth": 2.5
    },
    "legend": {
      "orient": "none",
      "title": null,
      "symbolType": "M-1,0H3",
      "symbolSize": 2025,
      "symbolStrokeWidth": 5,
      "labelFont": "DejaVu Sans", "labelFontSize": 44, "labelColor": "black",
      "labelOffset": 81, "labelLimit": 700,
      "rowPadding": 23.5,
      "padding": 16,
      "strokeColor": "#cccccc", "strokeWidth": 2, "cornerRadius": 8
    }
  }
}
